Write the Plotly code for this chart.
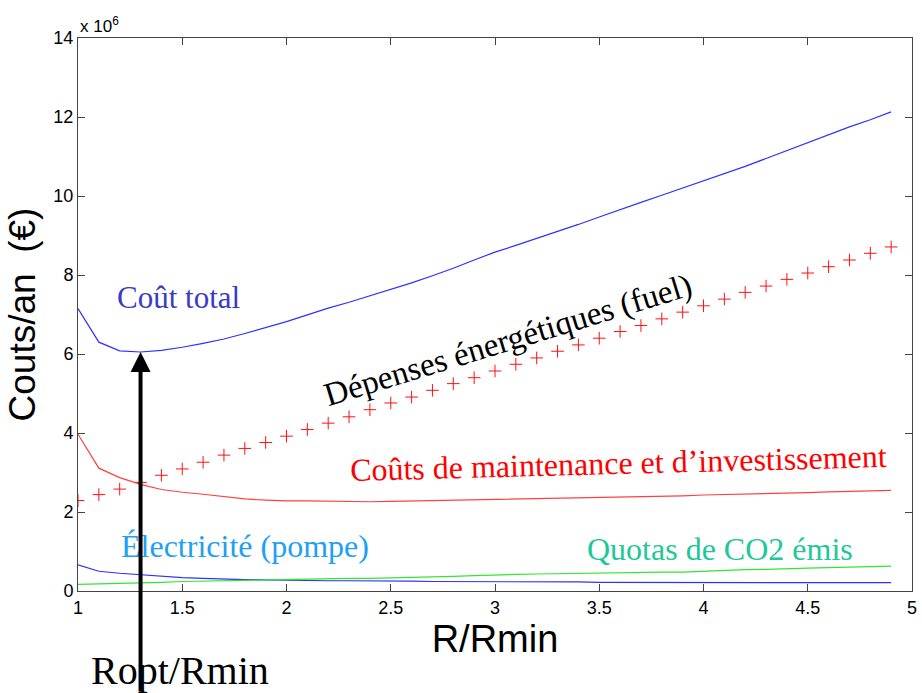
import plotly.graph_objects as go

# R/Rmin grid
ratio = [1.0, 1.1, 1.2, 1.3, 1.4, 1.5, 1.6, 1.7, 1.8, 1.9,
         2.0, 2.1, 2.2, 2.3, 2.4, 2.5, 2.6, 2.7, 2.8, 2.9,
         3.0, 3.1, 3.2, 3.3, 3.4, 3.5, 3.6, 3.7, 3.8, 3.9,
         4.0, 4.1, 4.2, 4.3, 4.4, 4.5, 4.6, 4.7, 4.8, 4.9]

# annual costs, in millions of euros
cout_total = [7.15, 6.30, 6.08, 6.05, 6.09, 6.17, 6.27, 6.38, 6.52, 6.67,
              6.82, 6.99, 7.16, 7.31, 7.47, 7.63, 7.80, 7.98, 8.17, 8.38,
              8.58, 8.75, 8.92, 9.10, 9.28, 9.47, 9.66, 9.84, 10.02, 10.20,
              10.38, 10.56, 10.75, 10.95, 11.15, 11.35, 11.55, 11.75, 11.93, 12.13]

fuel = [2.29, 2.44, 2.58, 2.75, 2.93, 3.09, 3.26, 3.44, 3.61, 3.76,
        3.92, 4.09, 4.25, 4.41, 4.59, 4.76, 4.91, 5.08, 5.25, 5.40,
        5.57, 5.74, 5.90, 6.07, 6.23, 6.40, 6.57, 6.72, 6.89, 7.06,
        7.22, 7.39, 7.56, 7.72, 7.89, 8.05, 8.21, 8.38, 8.55, 8.71]

maintenance = [3.97, 3.11, 2.87, 2.70, 2.57, 2.50, 2.45, 2.39, 2.33, 2.30,
               2.28, 2.28, 2.27, 2.27, 2.26, 2.27, 2.28, 2.28, 2.29, 2.30,
               2.31, 2.32, 2.33, 2.34, 2.35, 2.36, 2.38, 2.39, 2.40, 2.41,
               2.43, 2.44, 2.45, 2.47, 2.48, 2.49, 2.51, 2.52, 2.54, 2.55]

electricite = [0.66, 0.50, 0.45, 0.41, 0.37, 0.34, 0.32, 0.30, 0.29, 0.28,
               0.27, 0.27, 0.26, 0.26, 0.26, 0.25, 0.25, 0.24, 0.24, 0.24,
               0.23, 0.23, 0.23, 0.23, 0.23, 0.22, 0.22, 0.22, 0.22, 0.22,
               0.22, 0.21, 0.21, 0.21, 0.21, 0.21, 0.21, 0.21, 0.21, 0.21]

quotas_co2 = [0.17, 0.18, 0.19, 0.20, 0.22, 0.24, 0.25, 0.27, 0.28, 0.29,
              0.30, 0.31, 0.31, 0.32, 0.32, 0.33, 0.35, 0.36, 0.37, 0.39,
              0.41, 0.42, 0.43, 0.44, 0.45, 0.46, 0.47, 0.47, 0.48, 0.48,
              0.50, 0.53, 0.54, 0.55, 0.57, 0.58, 0.59, 0.60, 0.62, 0.63]

i_opt = 3  # index of the cost minimum (R/Rmin = 1.3)

serif = "Liberation Serif, Times New Roman, serif"
sans = "Liberation Sans, Arial, sans-serif"

fig = go.Figure()
fig.add_trace(go.Scatter(x=ratio, y=cout_total, mode="lines",
                         line=dict(color="#3030ff", width=1.2)))
fig.add_trace(go.Scatter(x=ratio, y=fuel, mode="markers",
                         marker=dict(symbol="cross-thin", size=9,
                                     line=dict(color="#ff1010", width=1))))
fig.add_trace(go.Scatter(x=ratio, y=maintenance, mode="lines",
                         line=dict(color="#ff4040", width=1.2)))
fig.add_trace(go.Scatter(x=ratio, y=electricite, mode="lines",
                         line=dict(color="#3030ff", width=1.2)))
fig.add_trace(go.Scatter(x=ratio, y=quotas_co2, mode="lines",
                         line=dict(color="#30e830", width=1.2)))

annotations = [
    dict(x=1.48, y=7.44, text="Coût total", font=dict(family=serif, size=31, color="#3a3ac8")),
    dict(x=3.06, y=6.33, text="Dépenses énergétiques (fuel)", textangle=-17,
         font=dict(family=serif, size=33, color="black")),
    dict(x=3.59, y=3.24, text="Coûts de maintenance et d’investissement", textangle=-1.5,
         font=dict(family=serif, size=32, color="#ff0000")),
    dict(x=1.80, y=1.14, text="Électricité (pompe)", font=dict(family=serif, size=32, color="#1ea0f5")),
    dict(x=4.08, y=1.06, text="Quotas de CO2 émis", font=dict(family=serif, size=32, color="#20c896")),
    dict(xref="paper", yref="paper", x=0.0, y=1.0, xanchor="left", yanchor="bottom",
         text="x 10<sup>6</sup>", font=dict(family=sans, size=17, color="black")),
    dict(xref="paper", yref="paper", x=0.122, y=-0.143, xanchor="center", yanchor="middle",
         text="Ropt/Rmin", font=dict(family=serif, size=40, color="black")),
    # arrow pointing at the optimum
    dict(x=ratio[i_opt], y=cout_total[i_opt], text="", showarrow=True,
         ax=0, ay=350, arrowhead=2, arrowsize=1, arrowwidth=4,
         arrowcolor="black", standoff=0),
]
for a in annotations:
    a.setdefault("showarrow", False)
    fig.add_annotation(**a)

axis_common = dict(showgrid=False, zeroline=False, showline=True, linecolor="#444",
                   linewidth=1, mirror="ticks", ticks="inside", ticklen=7,
                   tickcolor="#444", ticklabeloverflow="allow",
                   tickfont=dict(family=sans, size=18, color="black"))

fig.update_xaxes(range=[1, 5], dtick=0.5, tick0=1,
                 title=dict(text="R/Rmin", font=dict(family=sans, size=38, color="black"), standoff=4),
                 **axis_common)
fig.update_yaxes(range=[0, 14], dtick=2, tick0=0,
                 title=dict(text="Couts/an  (€)", font=dict(family=sans, size=37, color="black"), standoff=6),
                 **axis_common)

fig.update_layout(width=922, height=693, showlegend=False,
                  margin=dict(l=78, r=5, t=38, b=102),
                  plot_bgcolor="white", paper_bgcolor="white")

fig.write_html("out.html")
